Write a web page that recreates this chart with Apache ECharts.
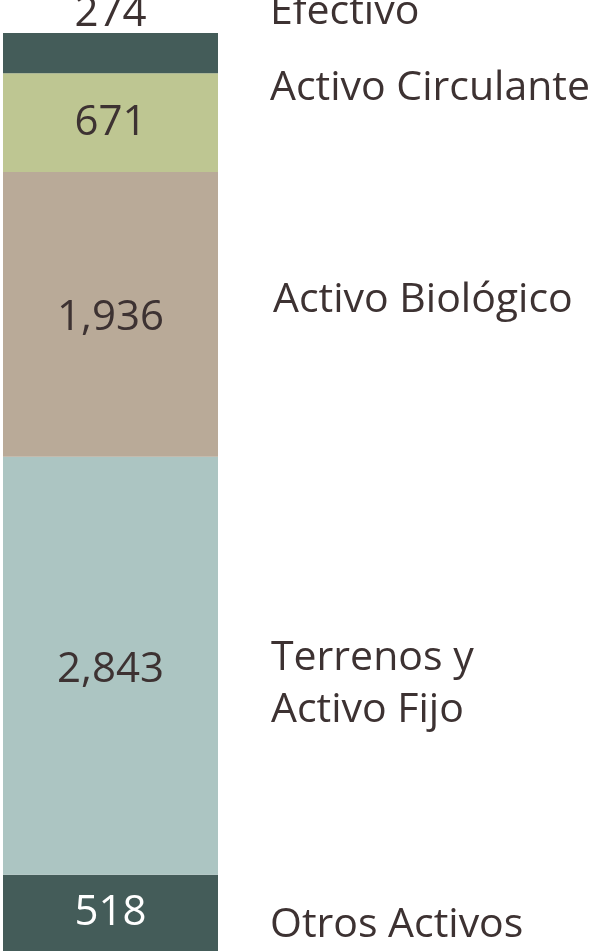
<!DOCTYPE html>
<html>
<head>
<meta charset="utf-8">
<script src="https://cdn.jsdelivr.net/npm/echarts@6/dist/echarts.min.js"></script>
<style>
  html, body { margin: 0; padding: 0; background: #fff; }
  #chart { width: 598px; height: 951px; }
</style>
</head>
<body>
<div id="chart"></div>
<script>
// stacked from the bottom up
const names = ['Otros Activos', 'Terrenos y\nActivo Fijo', 'Activo Biológico', 'Activo Circulante', 'Efectivo'];
const values = [518, 2843, 1936, 671, 274];
const colors = ['#445c59', '#acc5c2', '#b9aa98', '#bec692', '#445c59'];
const labelColors = ['#ffffff', '#3d3232', '#3d3232', '#3d3232', '#3d3232'];

const FONT = 'Open Sans';
const textColor = '#3d3232';

const chart = echarts.init(document.getElementById('chart'));

const series = values.map((v, i) => ({
  name: names[i],
  type: 'bar',
  stack: 'total',
  barWidth: '100%',
  data: [v],
  itemStyle: {color: colors[i]},
  label: {
    show: true,
    position: i === values.length - 1 ? 'top' : 'inside',
    distance: -2,
    offset: (i === 1 || i === 2) ? [0, 4] : [0, 0],
    color: labelColors[i],
    fontFamily: FONT,
    fontSize: 42,
    formatter: p => p.value.toLocaleString('en-US')
  }
}));

// category names on the right side
const nameSpots = [
  {text: 'Efectivo', x: 270, y: 12},
  {text: 'Activo Circulante', x: 270, y: 88},
  {text: 'Activo Biológico', x: 273, y: 300},
  {text: 'Terrenos y\nActivo Fijo', x: 271, y: 684},
  {text: 'Otros Activos', x: 270, y: 925}
];

chart.setOption({
  animation: false,
  grid: {left: 3, right: 380, top: 33, bottom: 0},
  xAxis: {type: 'category', data: ['Activos'], show: false},
  yAxis: {type: 'value', min: 0, max: 6242, show: false},
  series: series,
  graphic: nameSpots.map(s => ({
    type: 'text',
    x: s.x,
    y: s.y,
    style: {
      text: s.text,
      fill: textColor,
      font: '41px ' + FONT,
      lineHeight: 52,
      verticalAlign: 'middle'
    }
  }))
});
</script>
</body>
</html>
